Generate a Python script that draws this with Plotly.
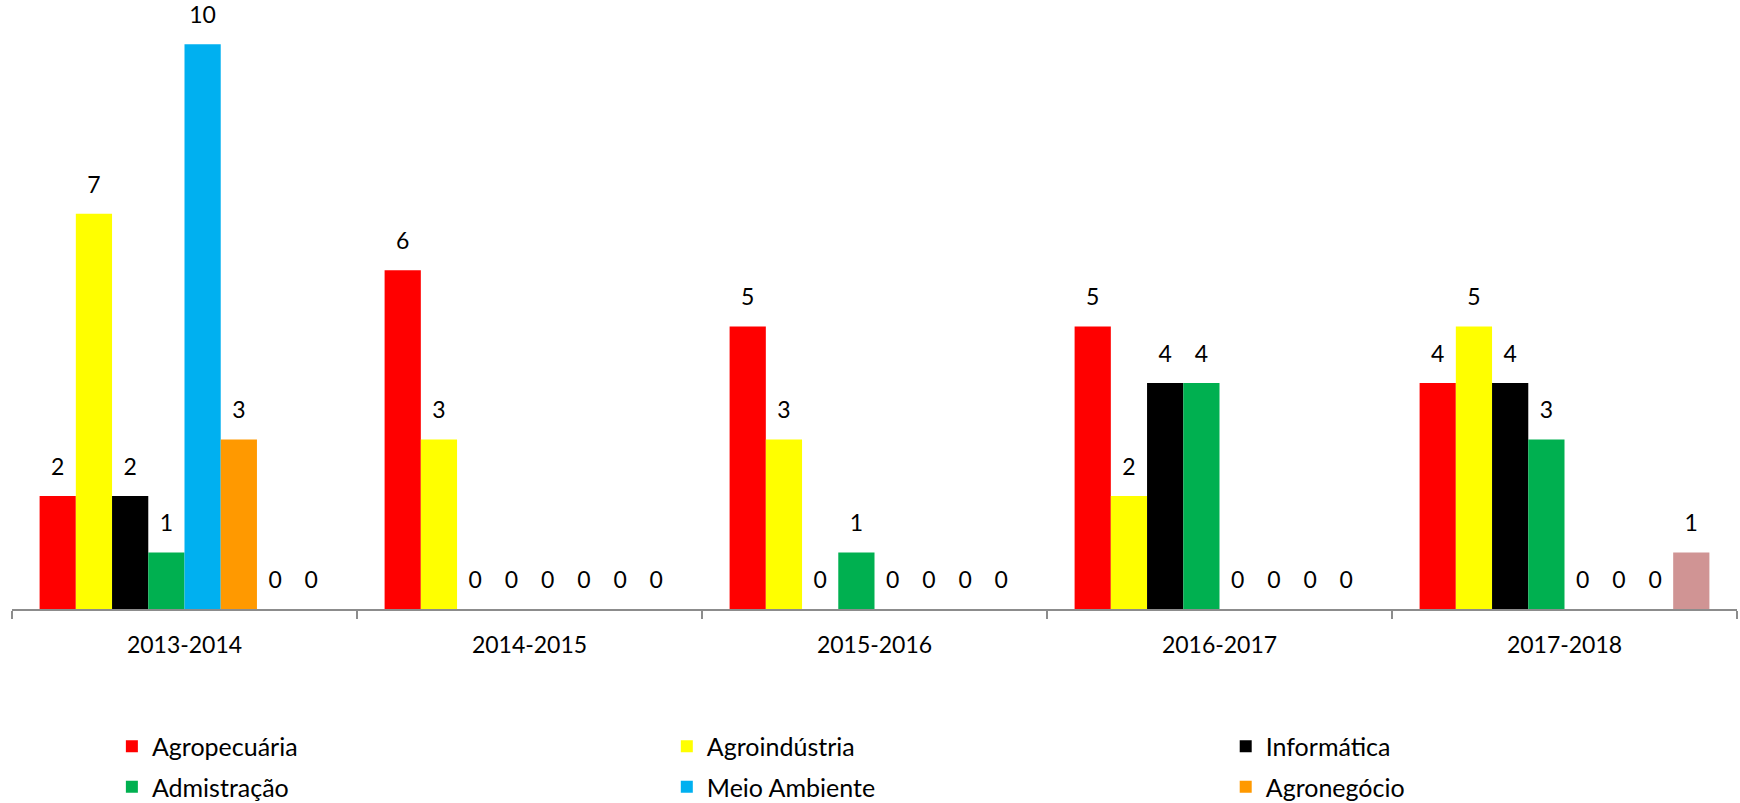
import plotly.graph_objects as go

categories = ["2013-2014", "2014-2015", "2015-2016", "2016-2017", "2017-2018"]
series_names = ["Agropecuária", "Agroindústria", "Informática", "Admistração",
                "Meio Ambiente", "Agronegócio", "Série 7", "Série 8"]
agropecuaria = [2, 6, 5, 5, 4]
agroindustria = [7, 3, 3, 2, 5]
informatica = [2, 0, 0, 4, 4]
admistracao = [1, 0, 1, 4, 3]
meio_ambiente = [10, 0, 0, 0, 0]
agronegocio = [3, 0, 0, 0, 0]
serie7 = [0, 0, 0, 0, 0]
serie8 = [0, 0, 0, 0, 1]
series_values = [agropecuaria, agroindustria, informatica, admistracao,
                 meio_ambiente, agronegocio, serie7, serie8]
colors = ["#FF0000", "#FFFF00", "#000000", "#00B050",
          "#00B0F0", "#FF9900", "#7030A0", "#D09494"]
# legend column for each series (None = not shown in legend)
legend_ids = ["legend", "legend2", "legend3", "legend", "legend2", "legend3", None, None]

FONT = "Lato, 'Open Sans', sans-serif"
GAP = 0.16

fig = go.Figure()
for i, (name, vals) in enumerate(zip(series_names, series_values)):
    fig.add_trace(go.Bar(
        x=categories, y=vals, name=name, marker_color=colors[i],
        marker_line_width=0, offsetgroup=str(i),
        showlegend=legend_ids[i] is not None,
        legend=legend_ids[i] if legend_ids[i] else "legend",
        legendgroup="g" + str(i),
    ))
for i, (name, vals) in enumerate(zip(series_names, series_values)):
    fig.add_trace(go.Scatter(
        x=categories, y=vals, mode="markers+text", text=[str(v) for v in vals],
        textposition="top center", offsetgroup=str(i),
        marker=dict(size=23, color="rgba(0,0,0,0)"),
        textfont=dict(family=FONT, size=23, color="#000000"),
        showlegend=False, hoverinfo="skip", cliponaxis=False,
    ))

legend_common = dict(orientation="v", yanchor="middle", y=-0.2656, xanchor="left",
                     tracegroupgap=5, font=dict(family=FONT, size=25),
                     itemclick=False, bgcolor="rgba(0,0,0,0)")

fig.update_layout(
    width=1740, height=803,
    margin=dict(l=12, r=3, t=16, b=194, autoexpand=False),
    plot_bgcolor="white", paper_bgcolor="white",
    barmode="group", bargap=GAP, bargroupgap=0,
    scattermode="group", scattergap=GAP,
    font=dict(family=FONT, size=23, color="#000000"),
    xaxis=dict(
        showline=True, linecolor="#8C8C8C", linewidth=2,
        ticks="outside", tickson="boundaries", ticklen=8, tickcolor="#8C8C8C",
        tickwidth=1.5, showgrid=False, tickfont=dict(family=FONT, size=23),
        ticklabelstandoff=14,
    ),
    yaxis=dict(range=[0, 10.5], visible=False, showgrid=False),
    legend=dict(x=0.0579, **legend_common),
    legend2=dict(x=0.3796, **legend_common),
    legend3=dict(x=0.7036, **legend_common),
)

fig.write_html("out.html", config={"displayModeBar": False},
               post_script="document.body.style.margin='0px';")
